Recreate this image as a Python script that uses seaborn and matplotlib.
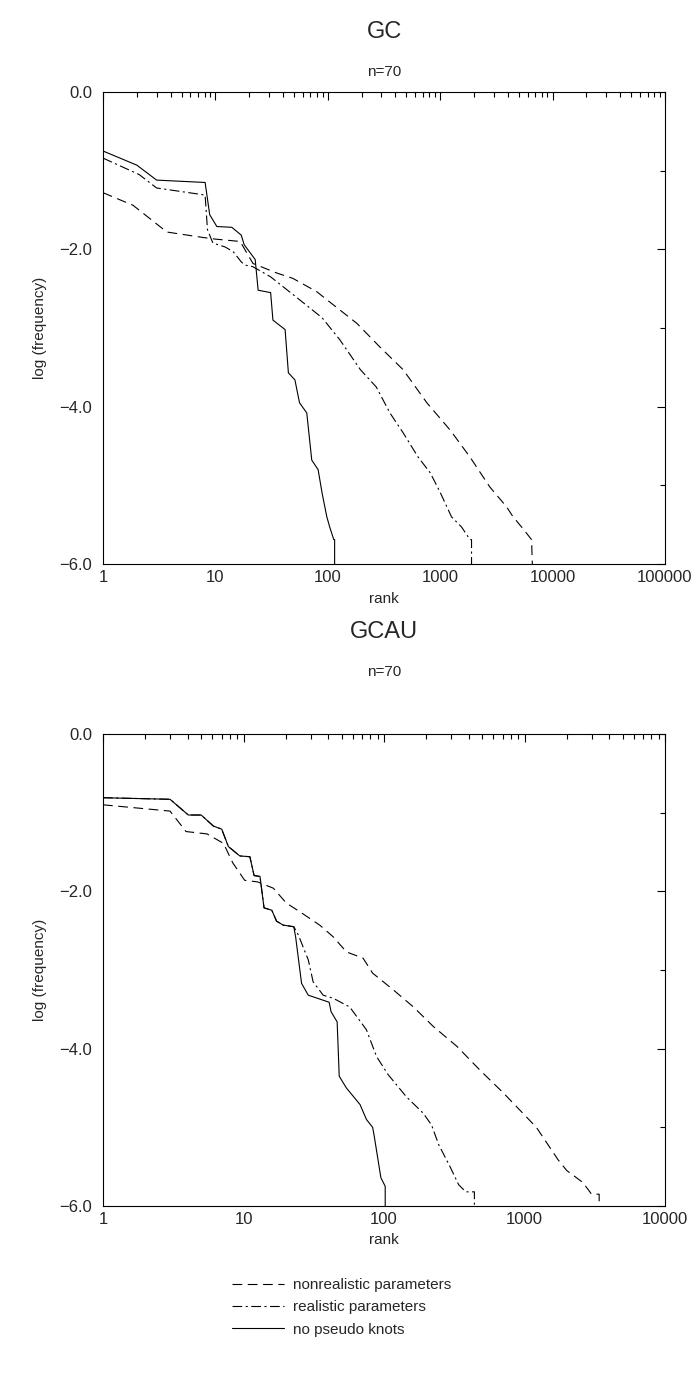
import numpy as np
import pandas as pd
import matplotlib
matplotlib.use("Agg")
import matplotlib.pyplot as plt
from matplotlib.lines import Line2D
from matplotlib.ticker import LogLocator, NullFormatter, FixedLocator
import seaborn as sns

# GC panel (rank, log frequency)
gc_nonreal_rank = [1, 1.85, 3.7, 7.8, 10, 16.6, 21.6, 35, 49, 80, 98, 181, 290, 468, 760,
                   1230, 1840, 2760, 3880, 4450, 5300, 6500, 6600]
gc_nonreal_logf = [-1.28, -1.44, -1.78, -1.85, -1.87, -1.9, -2.18, -2.3, -2.37, -2.54, -2.64,
                   -2.94, -3.24, -3.53, -3.95, -4.3, -4.64, -5.02, -5.27, -5.4, -5.53, -5.69, -6.0]
gc_real_rank = [1, 2.1, 3, 8.1, 8.5, 9.5, 12.2, 14.4, 17, 18.3, 21.5, 31, 56, 89, 128, 195,
                270, 357, 467, 635, 815, 1000, 1260, 1550, 1840, 1900, 1900]
gc_real_logf = [-0.84, -1.05, -1.22, -1.31, -1.75, -1.92, -1.97, -2.03, -2.16, -2.2, -2.22,
                -2.35, -2.64, -2.87, -3.15, -3.53, -3.75, -4.08, -4.33, -4.64, -4.84, -5.09,
                -5.4, -5.53, -5.69, -5.69, -6.0]
gc_nopk_rank = [1, 2, 3, 8.1, 8.9, 10.3, 14, 17, 18, 22.6, 24, 31, 32.5, 41.7, 44.6, 51, 56,
                65, 72, 82, 89, 98, 104, 113, 115, 115]
gc_nopk_logf = [-0.75, -0.93, -1.12, -1.15, -1.56, -1.71, -1.72, -1.82, -1.94, -2.13, -2.52,
                -2.55, -2.9, -3.02, -3.57, -3.66, -3.95, -4.08, -4.68, -4.8, -5.1, -5.4, -5.53,
                -5.69, -5.69, -6.0]

# GCAU panel
gcau_nonreal_rank = [1, 3, 3.9, 5.5, 7.2, 8.4, 10.2, 12.6, 16.3, 20.2, 25.2, 34.9, 43.6, 54,
                     71, 83, 116, 162, 225, 330, 480, 705, 1215, 1730, 2000, 2600, 3000, 3400, 3400]
gcau_nonreal_logf = [-0.9, -0.98, -1.24, -1.27, -1.39, -1.64, -1.86, -1.88, -1.96, -2.15, -2.26,
                     -2.43, -2.58, -2.77, -2.85, -3.04, -3.25, -3.47, -3.72, -3.97, -4.27, -4.56,
                     -5.0, -5.41, -5.55, -5.7, -5.85, -5.85, -6.0]
gcau_real_rank = [1, 3, 4.05, 5.0, 6.1, 7, 7.8, 9.4, 11.1, 11.9, 13.1, 14, 15.9, 17.2, 19.2,
                  22.8, 24.5, 28.9, 31.3, 36.9, 43.6, 57, 75, 88.5, 107, 144, 190, 218, 245,
                  295, 340, 382, 440, 440]
gcau_real_logf = [-0.81, -0.83, -1.03, -1.03, -1.17, -1.21, -1.43, -1.55, -1.56, -1.8, -1.81,
                  -2.21, -2.24, -2.38, -2.43, -2.45, -2.55, -2.87, -3.15, -3.32, -3.36, -3.47,
                  -3.76, -4.1, -4.33, -4.61, -4.82, -4.97, -5.22, -5.5, -5.73, -5.82, -5.82, -6.0]
gcau_nopk_rank = [1, 3, 4.05, 5.0, 6.1, 7, 7.8, 9.4, 11.1, 11.9, 13.1, 14, 15.9, 17.2, 19.2,
                  22.8, 23.5, 25.9, 28.9, 40.7, 42, 46.4, 48, 54, 67.5, 75, 83, 85, 95, 102, 102]
gcau_nopk_logf = [-0.81, -0.83, -1.03, -1.03, -1.17, -1.21, -1.43, -1.55, -1.56, -1.8, -1.81,
                  -2.21, -2.24, -2.38, -2.43, -2.45, -2.58, -3.17, -3.32, -3.41, -3.53, -3.66,
                  -4.35, -4.5, -4.71, -4.9, -5.0, -5.1, -5.64, -5.75, -6.0]

series_names = ["nonrealistic parameters", "realistic parameters", "no pseudo knots"]
y_ticks = [0.0, -2.0, -4.0, -6.0]
y_ticklabels = ["0.0", "\u22122.0", "\u22124.0", "\u22126.0"]

sns.set_style("white")
plt.rcParams["font.family"] = ["Liberation Sans", "DejaVu Sans"]
plt.rcParams["lines.scale_dashes"] = False

styles = [(0, (7, 4)), (0, (7, 2.5, 1.5, 2.5)), "-"]

fig = plt.figure(figsize=(7, 13.78), dpi=100)
ax1 = fig.add_axes([103 / 700, 1 - 564 / 1378, 562 / 700, 472 / 1378])
ax2 = fig.add_axes([103 / 700, 1 - 1206 / 1378, 562 / 700, 472 / 1378])

panels = [
    (ax1, "GC", 32, 72, [(gc_nonreal_rank, gc_nonreal_logf), (gc_real_rank, gc_real_logf),
                         (gc_nopk_rank, gc_nopk_logf)], 1e5,
     ["1", "10", "100", "1000", "10000", "100000"]),
    (ax2, "GCAU", 632, 672, [(gcau_nonreal_rank, gcau_nonreal_logf),
                             (gcau_real_rank, gcau_real_logf),
                             (gcau_nopk_rank, gcau_nopk_logf)], 1e4,
     ["1", "10", "100", "1000", "10000"]),
]

for ax, name, ty, ny, series, xmax, xlabels in panels:
    for (r, f), ls in zip(series, styles):
        df = pd.DataFrame({"rank": r, "logf": f})
        sns.lineplot(data=df, x="rank", y="logf", ax=ax, estimator=None, sort=False,
                     color="black", linewidth=0.8, linestyle=ls)
    ax.set_xscale("log")
    ax.set_xlim(1, xmax)
    ax.set_ylim(-6, 0)
    majors = [10 ** i for i in range(len(xlabels))]
    ax.xaxis.set_major_locator(FixedLocator(majors))
    ax.set_xticklabels(xlabels)
    ax.xaxis.set_minor_locator(LogLocator(base=10, subs=np.arange(2, 10)))
    ax.xaxis.set_minor_formatter(NullFormatter())
    ax.set_yticks(y_ticks)
    ax.set_yticklabels(y_ticklabels)
    ax.set_yticks([-1, -3, -5], minor=True)
    ax.tick_params(which="both", direction="in", top=True, right=True, labelsize=12,
                   width=0.8, color="black")
    ax.tick_params(axis="y", pad=8)
    ax.tick_params(axis="x", pad=4)
    ax.tick_params(which="major", length=6)
    ax.tick_params(which="minor", length=3.5)
    for s in ax.spines.values():
        s.set_color("black")
        s.set_linewidth(0.8)
    ax.set_xlabel("rank", fontsize=11, labelpad=5)
    ax.set_ylabel("log (frequency)", fontsize=11)
    ax.yaxis.set_label_coords(-0.1, 0.5)
    fig.text(384 / 700, 1 - ty / 1378, name, ha="center", va="center", fontsize=17)
    fig.text(384 / 700, 1 - ny / 1378, "n=70", ha="center", va="center", fontsize=11)

handles = [Line2D([0], [0], color="black", linewidth=0.8, linestyle=ls) for ls in styles]
fig.legend(handles, series_names, loc="upper left", bbox_to_anchor=(232 / 700, 1 - 1278 / 1378),
           frameon=False, fontsize=11, handlelength=3.4, handletextpad=0.6, labelspacing=0.55,
           borderpad=0, borderaxespad=0)

fig.savefig("out.png", dpi=100, facecolor="white")
